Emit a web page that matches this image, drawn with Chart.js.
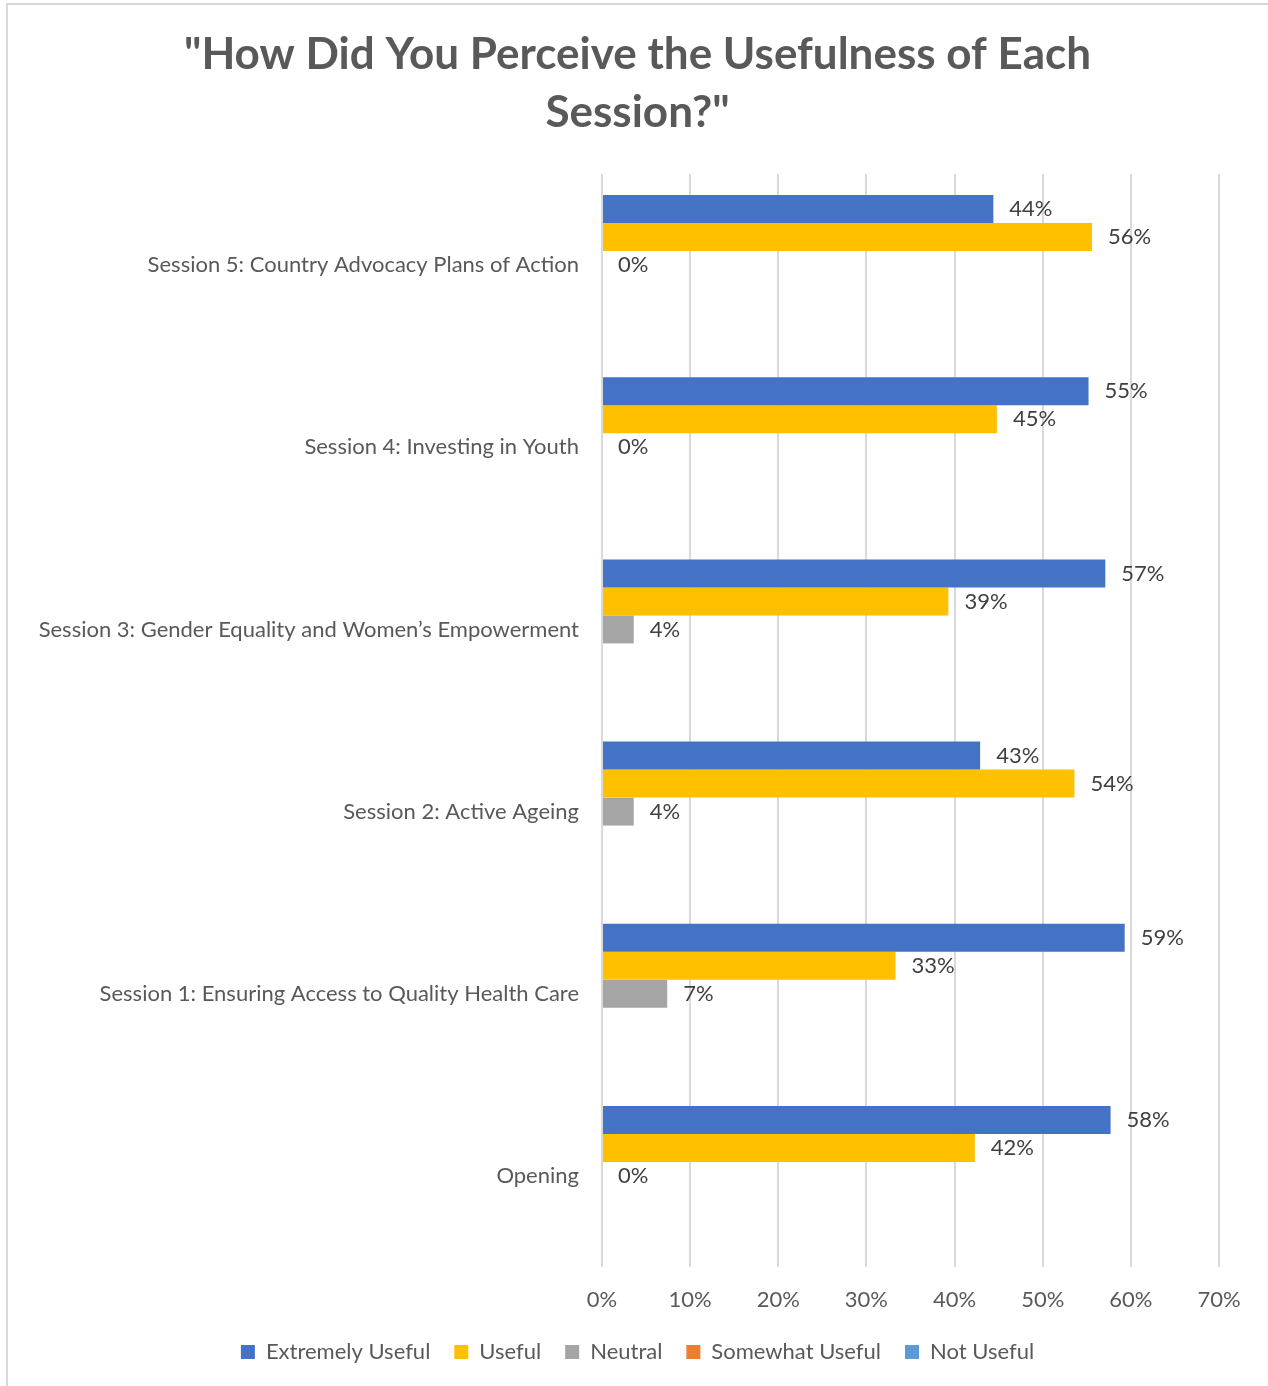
<!DOCTYPE html>
<html>
<head>
<meta charset="utf-8">
<script src="https://cdn.jsdelivr.net/npm/chart.js@4/dist/chart.umd.min.js"></script>
<style>
  html, body { margin: 0; padding: 0; background: #fff; }
  #wrap { position: relative; width: 1268px; height: 1386px; overflow: hidden; }
  #frame { position: absolute; left: 6px; top: 3px; width: 1300px; height: 1420px;
           border-left: 2px solid #d9d9d9; border-top: 2px solid #d9d9d9; }
  canvas { position: absolute; left: 0; top: 0; }
</style>
</head>
<body>
<div id="wrap">
  <div id="frame"></div>
  <canvas id="chart" width="1268" height="1386"></canvas>
</div>
<script>
const sessions = [
    'Session 5: Country Advocacy Plans of Action',
    'Session 4: Investing in Youth',
    'Session 3: Gender Equality and Women\u2019s Empowerment',
    'Session 2: Active Ageing',
    'Session 1: Ensuring Access to Quality Health Care',
    'Opening'
];
const extremelyUseful = [44.4, 55.2, 57.1, 42.9, 59.3, 57.7];
const useful          = [55.6, 44.8, 39.3, 53.6, 33.3, 42.3];
const neutral         = [0, 0, 3.6, 3.6, 7.4, 0];
const somewhatUseful  = [null, null, null, null, null, null];
const notUseful       = [null, null, null, null, null, null];
const xTicks = [0, 10, 20, 30, 40, 50, 60, 70];

const FONT = 'Lato';

// data labels to the right of each bar (no datalabels plugin available offline)
const barLabels = {
    id: 'barLabels',
    afterLayout(chart) {
        // long category names run past the axis box; widen the label clip area
        chart.scales.y.left = 0;
    },
    afterDatasetsDraw(chart) {
        const ctx = chart.ctx;
        ctx.save();
        ctx.font = '22px ' + FONT;
        ctx.fillStyle = '#404040';
        ctx.textAlign = 'left';
        ctx.textBaseline = 'middle';
        chart.data.datasets.forEach((ds, i) => {
            chart.getDatasetMeta(i).data.forEach((bar, j) => {
                const v = ds.data[j];
                if (v === null || v === undefined) return;
                ctx.fillText(Math.round(v) + '%', bar.x + 16, bar.y);
            });
        });
        ctx.restore();
    }
};

new Chart(document.getElementById('chart'), {
    type: 'bar',
    data: {
        labels: sessions,
        datasets: [
            { label: 'Extremely Useful', data: extremelyUseful, backgroundColor: '#4472c4' },
            { label: 'Useful', data: useful, backgroundColor: '#ffc000' },
            { label: 'Neutral', data: neutral, backgroundColor: '#a5a5a5' },
            { label: 'Somewhat Useful', data: somewhatUseful, backgroundColor: '#ed7d31' },
            { label: 'Not Useful', data: notUseful, backgroundColor: '#5b9bd5' }
        ]
    },
    options: {
        indexAxis: 'y',
        responsive: false,
        animation: false,
        categoryPercentage: 0.768,
        barPercentage: 1,
        layout: { padding: { left: 56, right: 49, top: 0, bottom: 13 } },
        plugins: {
            title: {
                display: true,
                text: ['"How Did You Perceive the Usefulness of Each', 'Session?"'],
                color: '#595959',
                font: { family: FONT, size: 44, weight: 'bold', lineHeight: 1.318 },
                padding: { top: 26, bottom: 32 }
            },
            legend: {
                position: 'bottom',
                labels: {
                    color: '#595959',
                    font: { family: FONT, size: 22 },
                    boxWidth: 14,
                    boxHeight: 14,
                    padding: 24
                }
            },
            tooltip: { enabled: false }
        },
        scales: {
            x: {
                min: 0,
                max: 70,
                afterBuildTicks: (scale) => { scale.ticks = xTicks.map(v => ({ value: v })); },
                afterFit: (scale) => { scale.height = 50; },
                grid: { color: '#d9d9d9', lineWidth: 2, drawTicks: false },
                border: { display: false },
                ticks: {
                    color: '#595959',
                    font: { family: FONT, size: 22 },
                    padding: 20,
                    callback: (v) => v + '%'
                }
            },
            y: {
                afterFit: (scale) => { scale.width = 546; },
                grid: { display: false, drawTicks: false },
                border: { display: false },
                ticks: {
                    color: '#595959',
                    font: { family: FONT, size: 22 },
                    padding: 23
                }
            }
        }
    },
    plugins: [barLabels]
});
</script>
</body>
</html>
